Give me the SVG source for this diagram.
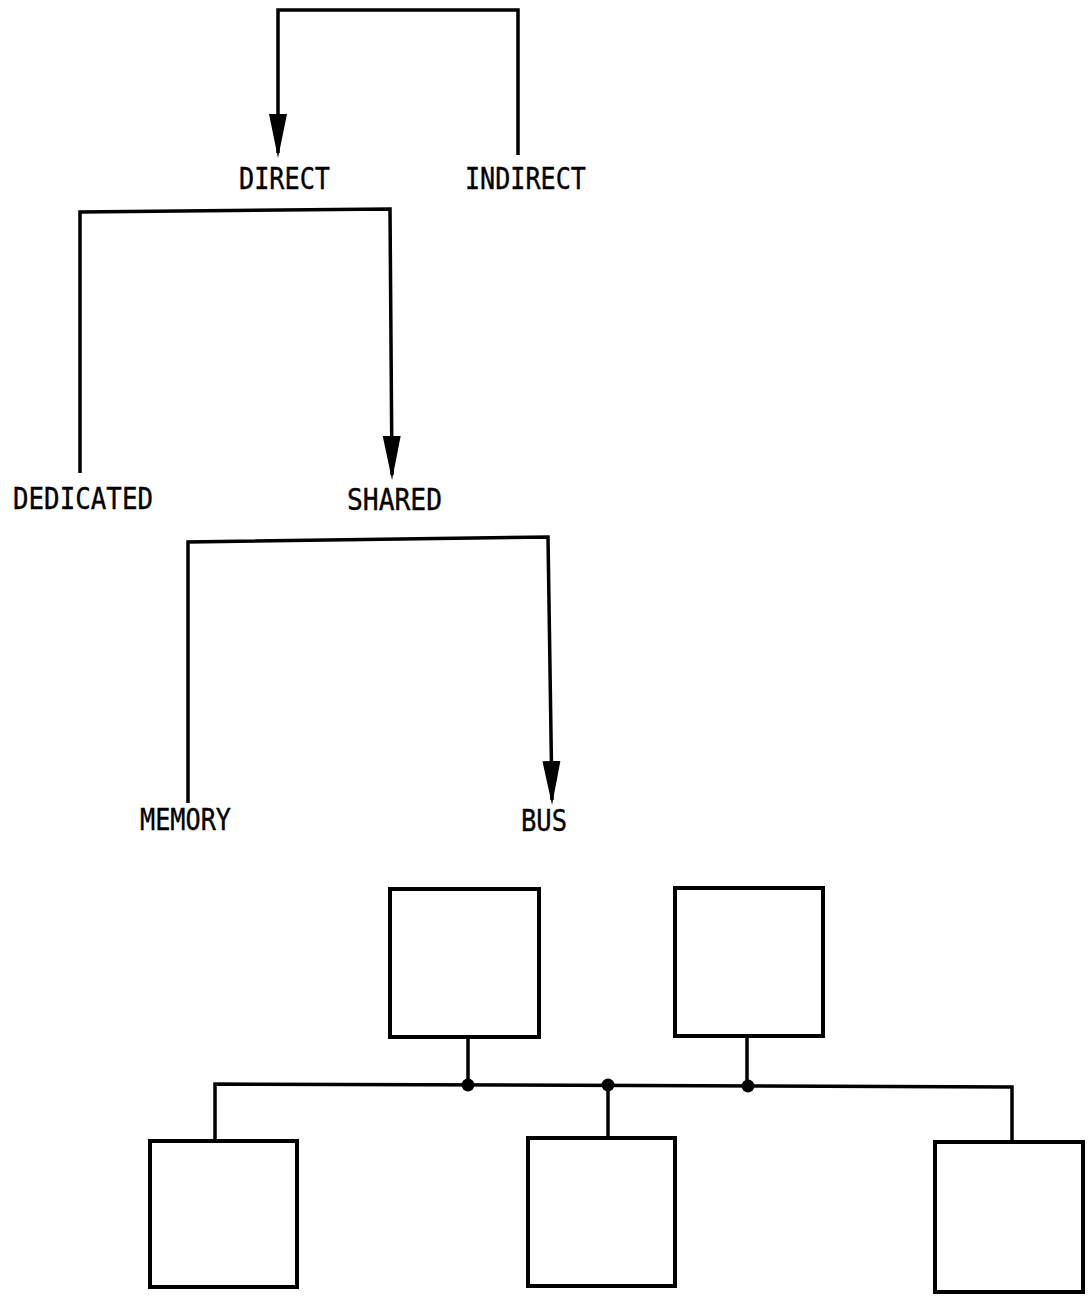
<svg xmlns="http://www.w3.org/2000/svg" width="1088" height="1299" viewBox="0 0 1088 1299">
  <style>
    .wire { fill: none; stroke: #000; stroke-width: 3.5; stroke-linejoin: miter; }
    .box { fill: #fff; stroke: #000; stroke-width: 4; }
    .dot { fill: #000; }
    .label { font-family: "DejaVu Sans Mono", "Liberation Mono", monospace; font-size: 30px; fill: #000; stroke: #000; stroke-width: 0.4; }
  </style>
  <defs>
    <marker id="arrow" markerUnits="userSpaceOnUse" markerWidth="46" markerHeight="20" viewBox="0 0 46 20" refX="39" refY="10" orient="auto">
      <path d="M0,1 L44,10 L0,19 Z" fill="#000"/>
    </marker>
  </defs>

  <rect width="1088" height="1299" fill="#fff"/>

  <!-- classification tree connectors -->
  <g id="connectors">
    <path class="wire" d="M518,155 L518,10 L278,10 L278,153" marker-end="url(#arrow)"/>
    <path class="wire" d="M80,473 L80,212 L390,209 L392,475" marker-end="url(#arrow)"/>
    <path class="wire" d="M188,803 L188,542 L548,537 L552,800" marker-end="url(#arrow)"/>

    <!-- shared bus and its drops -->
    <path class="wire" d="M215,1142 L215,1084 L1012,1087 L1012,1142"/>
    <path class="wire" d="M468,1037 L468,1085"/>
    <path class="wire" d="M747,1036 L747,1086"/>
    <path class="wire" d="M608,1085 L608,1138"/>
    <circle class="dot" cx="468" cy="1085" r="6.5"/>
    <circle class="dot" cx="608" cy="1085" r="6.5"/>
    <circle class="dot" cx="748" cy="1086" r="6.5"/>
  </g>

  <!-- tree labels -->
  <g id="node-direct"><text class="label" x="239" y="189" textLength="91" lengthAdjust="spacingAndGlyphs">DIRECT</text></g>
  <g id="node-indirect"><text class="label" x="465" y="189" textLength="121" lengthAdjust="spacingAndGlyphs">INDIRECT</text></g>
  <g id="node-dedicated"><text class="label" x="13" y="509" textLength="140" lengthAdjust="spacingAndGlyphs">DEDICATED</text></g>
  <g id="node-shared"><text class="label" x="347" y="510" textLength="95" lengthAdjust="spacingAndGlyphs">SHARED</text></g>
  <g id="node-memory"><text class="label" x="140" y="830" textLength="91" lengthAdjust="spacingAndGlyphs">MEMORY</text></g>
  <g id="node-bus"><text class="label" x="521" y="831" textLength="46" lengthAdjust="spacingAndGlyphs">BUS</text></g>

  <!-- units attached to the bus -->
  <g id="unit-top-1"><rect class="box" x="390" y="889" width="149" height="148"/></g>
  <g id="unit-top-2"><rect class="box" x="675" y="888" width="148" height="148"/></g>
  <g id="unit-bottom-1"><rect class="box" x="150" y="1141" width="147" height="146"/></g>
  <g id="unit-bottom-2"><rect class="box" x="528" y="1138" width="147" height="148"/></g>
  <g id="unit-bottom-3"><rect class="box" x="935" y="1142" width="148" height="150"/></g>
</svg>
